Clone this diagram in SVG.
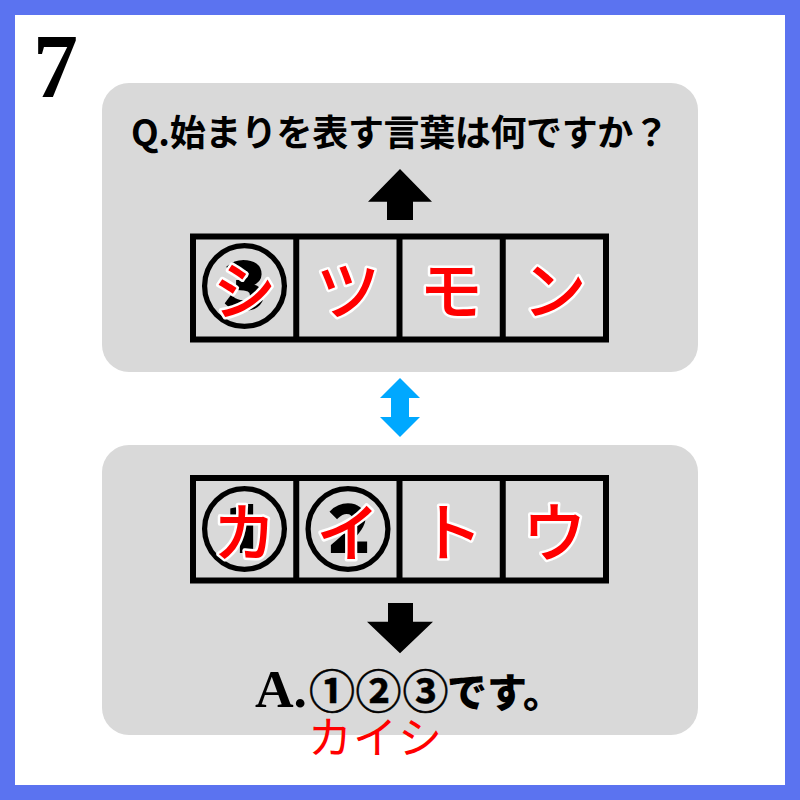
<svg xmlns="http://www.w3.org/2000/svg" width="800" height="800" viewBox="0 0 800 800">
<style>
.panel{fill:#d9d9d9}
.cell{fill:none;stroke:#000;stroke-width:6}
.kana{font-family:"Noto Sans CJK JP","Noto Sans CJK SC",sans-serif;font-weight:500;font-size:64px;fill:#ff0000;stroke:#fff;stroke-width:5;stroke-linejoin:round;paint-order:stroke;text-anchor:middle}
.circ{font-family:"Noto Sans CJK JP","Noto Sans CJK SC",sans-serif;font-weight:700;font-size:88px;fill:#000;stroke:#000;stroke-width:2;text-anchor:middle}
.q{font-family:"Noto Sans CJK JP","Noto Sans CJK SC",sans-serif;font-weight:700;font-size:36px;fill:#000}
</style>
<rect x="0" y="0" width="800" height="800" fill="#5b73f0"/>
<rect x="15" y="15" width="770" height="770" fill="#fff"/>
<text x="33" y="97" font-family="Liberation Serif" font-weight="700" font-size="90" fill="#000">7</text>

<g id="panel-top">
<rect class="panel" x="102" y="83" width="596" height="289" rx="27"/>
<text class="q" x="400" y="146" text-anchor="middle" textLength="538" lengthAdjust="spacing">Q.始まりを表す言葉は何ですか？</text>
</g>
<g id="table-top">
<rect class="cell" x="193" y="236.5" width="413" height="103"/>
<line class="cell" x1="296.25" y1="236.5" x2="296.25" y2="339.5"/>
<line class="cell" x1="399.5" y1="236.5" x2="399.5" y2="339.5"/>
<line class="cell" x1="502.75" y1="236.5" x2="502.75" y2="339.5"/>
<text class="circ" x="244.6" y="319">③</text>
<text class="kana" x="244.6" y="314">シ</text>
<text class="kana" x="347.9" y="314">ツ</text>
<text class="kana" x="451.1" y="314">モ</text>
<text class="kana" x="554.4" y="314">ン</text>
</g>

<g id="panel-bottom">
<rect class="panel" x="102" y="445" width="596" height="290" rx="27"/>
</g>
<g id="table-bottom">
<rect class="cell" x="193" y="478" width="413" height="102.5"/>
<line class="cell" x1="296.25" y1="478" x2="296.25" y2="580.5"/>
<line class="cell" x1="399.5" y1="478" x2="399.5" y2="580.5"/>
<line class="cell" x1="502.75" y1="478" x2="502.75" y2="580.5"/>
<text class="circ" x="244.6" y="562">①</text>
<text class="circ" x="347.9" y="562">②</text>
<text class="kana" x="244.6" y="556">カ</text>
<text class="kana" x="347.9" y="556">イ</text>
<text class="kana" x="451.1" y="556">ト</text>
<text class="kana" x="554.4" y="556">ウ</text>
</g>

<g id="answer">
<text y="707" fill="#000"><tspan x="255" font-family="Liberation Serif" font-weight="700" font-size="52" textLength="52" lengthAdjust="spacingAndGlyphs">A.</tspan><tspan x="309 355.5 402.5" y="708" font-family="Noto Sans CJK JP, sans-serif" font-weight="700" font-size="46" stroke="#000" stroke-width="0.5">①②③</tspan><tspan x="447" y="707" font-family="Noto Sans CJK JP, sans-serif" font-weight="900" font-size="40">です。</tspan></text>
<text x="308" y="754" font-family="Noto Sans CJK JP, sans-serif" font-size="44" fill="#ff0000" letter-spacing="1">カイシ</text>
</g>

<g id="connectors">
<polygon points="400,169 432,201.7 413,201.7 413,220 387,220 387,201.7 368,201.7" fill="#000"/>
<polygon points="400,378 420,398 409,398 409,417 420,417 400,437 380,417 391,417 391,398 380,398" fill="#00a8ff"/>
<polygon points="388,603 413,603 413,621.7 433,621.7 400,653.3 367,621.7 388,621.7" fill="#000"/>
</g>
</svg>
